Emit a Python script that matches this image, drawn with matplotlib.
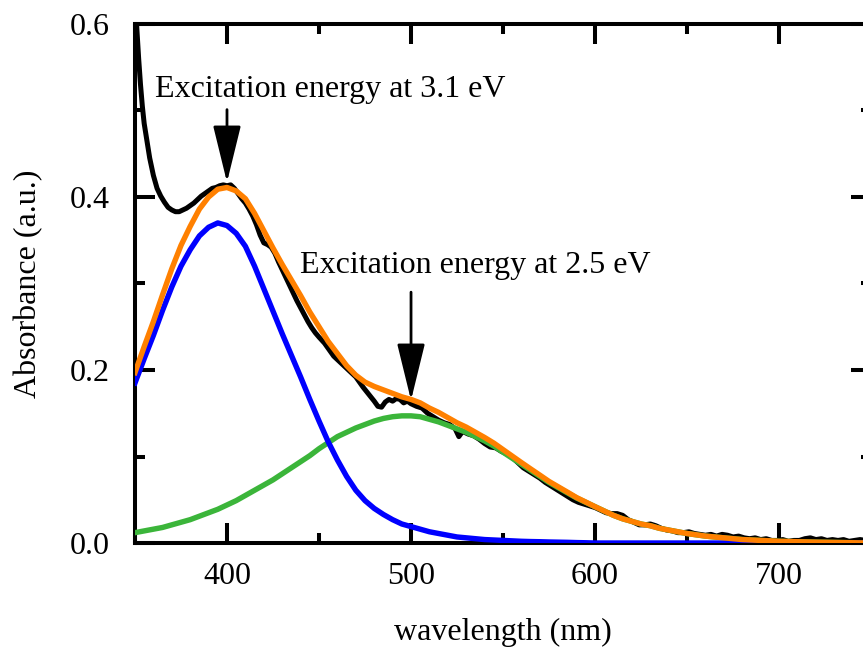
import matplotlib
matplotlib.use("Agg")
import matplotlib.pyplot as plt
from matplotlib.ticker import MultipleLocator

# Measured absorbance spectrum (wavelength in nm)
data_wl = [350, 351, 352, 353, 354, 355, 356.5, 358, 360, 362, 364, 366, 368, 370,
           372, 374, 376, 378, 380, 382, 384, 386, 388, 390, 392, 394, 396, 398,
           400, 402, 404, 406, 408, 410, 412, 414, 416, 418, 420, 422, 424, 426,
           428, 430, 432, 434, 436, 438, 440, 442, 444, 446, 448, 450, 453, 455,
           458, 462, 466, 470, 474, 477, 480, 482, 484, 486, 488, 490, 492, 494,
           496, 498, 500, 503, 506, 509, 512, 515, 518, 521, 524, 526, 528, 531,
           534, 537, 540, 543, 546, 549, 552, 555, 558, 561, 564, 567, 570, 573,
           576, 579, 582, 585, 588, 591, 594, 597, 600, 603, 606, 609, 612, 615,
           618, 621, 624, 627, 630, 633, 636, 639, 642, 645, 648, 651, 654, 657,
           660, 663, 666, 669, 672, 675, 678, 681, 684, 687, 690, 693, 696, 699,
           702, 705, 708, 711, 714, 717, 720, 723, 726, 729, 732, 735, 738, 741,
           744, 747, 750]
data_abs = [0.63, 0.595, 0.56, 0.53, 0.505, 0.485, 0.465, 0.445, 0.425, 0.410,
            0.401, 0.394, 0.388, 0.385, 0.383, 0.383, 0.385, 0.387, 0.390, 0.393,
            0.397, 0.401, 0.404, 0.407, 0.410, 0.411, 0.413, 0.414, 0.413, 0.414,
            0.410, 0.404, 0.398, 0.393, 0.386, 0.378, 0.368, 0.356, 0.347, 0.345,
            0.342, 0.335, 0.325, 0.316, 0.307, 0.298, 0.289, 0.280, 0.272, 0.264,
            0.256, 0.249, 0.243, 0.238, 0.231, 0.225, 0.216, 0.208, 0.200, 0.192,
            0.180, 0.172, 0.164, 0.158, 0.157, 0.163, 0.166, 0.164, 0.167, 0.166,
            0.162, 0.164, 0.161, 0.158, 0.156, 0.150, 0.146, 0.142, 0.139, 0.137,
            0.132, 0.123, 0.129, 0.126, 0.124, 0.120, 0.115, 0.111, 0.110, 0.106,
            0.103, 0.099, 0.093, 0.087, 0.083, 0.079, 0.075, 0.070, 0.066, 0.062,
            0.058, 0.054, 0.050, 0.047, 0.045, 0.043, 0.041, 0.038, 0.035, 0.034,
            0.034, 0.032, 0.027, 0.024, 0.021, 0.021, 0.022, 0.020, 0.017, 0.015,
            0.014, 0.012, 0.012, 0.013, 0.011, 0.010, 0.009, 0.010, 0.008, 0.010,
            0.009, 0.007, 0.008, 0.006, 0.005, 0.006, 0.004, 0.005, 0.003, 0.003,
            0.004, 0.002, 0.003, 0.003, 0.005, 0.006, 0.004, 0.005, 0.003, 0.004,
            0.003, 0.004, 0.002, 0.003, 0.004, 0.003, 0.003]

# Fitted Gaussian components and their sum
fit_wl = [350, 355, 360, 365, 370, 375, 380, 385, 390, 395, 400, 405, 410, 415,
          420, 425, 430, 435, 440, 445, 450, 455, 460, 465, 470, 475, 480, 485,
          490, 495, 500, 505, 510, 515, 520, 525, 530, 535, 540, 545, 550, 555,
          560, 565, 570, 575, 580, 585, 590, 595, 600, 605, 610, 615, 620, 625,
          630, 635, 640, 645, 650, 655, 660, 670, 680, 690, 700, 720, 750]
band_high = [0.185, 0.213, 0.240, 0.269, 0.296, 0.320, 0.339, 0.355, 0.365, 0.370,
             0.367, 0.358, 0.343, 0.320, 0.294, 0.268, 0.242, 0.217, 0.192, 0.166,
             0.141, 0.117, 0.096, 0.077, 0.061, 0.049, 0.040, 0.033, 0.027, 0.022,
             0.019, 0.016, 0.013, 0.011, 0.009, 0.007, 0.006, 0.005, 0.004, 0.0035,
             0.003, 0.0025, 0.002, 0.0017, 0.0015, 0.0012, 0.001, 0.0008, 0.0005,
             0.0003, 0.0, 0.0, 0.0, 0.0, 0.0, 0.0, 0.0, 0.0, 0.0, 0.0, 0.0, 0.0,
             0.0, 0.0, 0.0, 0.0, 0.0, 0.0, 0.0]
band_low = [0.012, 0.014, 0.016, 0.018, 0.021, 0.024, 0.027, 0.031, 0.035, 0.039,
            0.044, 0.049, 0.055, 0.061, 0.067, 0.073, 0.080, 0.087, 0.094, 0.101,
            0.109, 0.116, 0.123, 0.128, 0.133, 0.137, 0.141, 0.144, 0.146, 0.147,
            0.147, 0.146, 0.143, 0.140, 0.136, 0.132, 0.128, 0.123, 0.118, 0.112,
            0.105, 0.098, 0.091, 0.084, 0.077, 0.070, 0.064, 0.058, 0.052, 0.047,
            0.042, 0.037, 0.032, 0.028, 0.025, 0.022, 0.020, 0.017, 0.015, 0.013,
            0.011, 0.0095, 0.008, 0.006, 0.004, 0.003, 0.002, 0.001, 0.0]
band_sum = [0.197, 0.227, 0.256, 0.287, 0.317, 0.344, 0.366, 0.386, 0.400, 0.409,
            0.411, 0.407, 0.398, 0.381, 0.361, 0.341, 0.322, 0.304, 0.286, 0.267,
            0.250, 0.233, 0.219, 0.205, 0.194, 0.186, 0.181, 0.177, 0.173, 0.169,
            0.166, 0.162, 0.156, 0.151, 0.145, 0.139, 0.134, 0.128, 0.122, 0.1155,
            0.108, 0.1005, 0.093, 0.0857, 0.0785, 0.0712, 0.065, 0.0588, 0.0525,
            0.0473, 0.042, 0.037, 0.032, 0.028, 0.025, 0.022, 0.020, 0.017, 0.015,
            0.013, 0.011, 0.0095, 0.008, 0.006, 0.004, 0.003, 0.002, 0.001, 0.0]

annot_text = ["Excitation energy at 3.1 eV", "Excitation energy at 2.5 eV"]
annot_wl = [400, 500]

plt.rcParams["font.family"] = ["Liberation Serif", "DejaVu Serif"]
plt.rcParams["font.size"] = 23

fig = plt.figure(figsize=(8.63, 6.48), dpi=100)
ax = fig.add_axes([0.1564, 0.162, 0.853, 0.801])

ax.plot(data_wl, data_abs, color="black", lw=3.6, solid_joinstyle="round", zorder=2)
ax.plot(fit_wl, band_low, color="#3bb53a", lw=3.9, solid_joinstyle="round", zorder=3)
ax.plot(fit_wl, band_high, color="#0000ff", lw=3.9, solid_joinstyle="round", zorder=3)
ax.plot(fit_wl, band_sum, color="#ff8000", lw=3.9, solid_joinstyle="round", zorder=4)

ax.set_xlim(350, 750)
ax.set_ylim(0, 0.6)
ax.xaxis.set_major_locator(MultipleLocator(100))
ax.xaxis.set_minor_locator(MultipleLocator(50))
ax.yaxis.set_major_locator(MultipleLocator(0.2))
ax.yaxis.set_minor_locator(MultipleLocator(0.1))
ax.yaxis.set_major_formatter(plt.FuncFormatter(lambda v, p: f"{v:.1f}"))

for s in ax.spines.values():
    s.set_linewidth(2.9)
ax.tick_params(which="both", direction="in", top=True, right=True, width=2.9)
ax.tick_params(which="major", length=14.4)
ax.tick_params(which="minor", length=7.2)
ax.tick_params(axis="x", which="major", pad=14, labelsize=23)
ax.tick_params(axis="y", which="major", pad=18, labelsize=23)

ax.set_xlabel("wavelength (nm)", fontsize=23, labelpad=19)
ax.set_ylabel("Absorbance (a.u.)", fontsize=23, labelpad=19)

# Arrows marking the two excitation energies
arrow_style = "-|>,head_length=1.55,head_width=0.38"
ax.annotate("", xy=(annot_wl[0], 0.417), xytext=(annot_wl[0], 0.501),
            arrowprops=dict(arrowstyle=arrow_style, color="black", lw=2.0,
                            shrinkA=0, shrinkB=0), zorder=6)
ax.annotate("", xy=(annot_wl[1], 0.165), xytext=(annot_wl[1], 0.290),
            arrowprops=dict(arrowstyle=arrow_style, color="black", lw=2.0,
                            shrinkA=0, shrinkB=0), zorder=6)
ax.text(361, 0.5156, annot_text[0], ha="left", va="baseline", fontsize=23)
ax.text(439.7, 0.312, annot_text[1], ha="left", va="baseline", fontsize=23)

fig.savefig("out.png", dpi=100)
